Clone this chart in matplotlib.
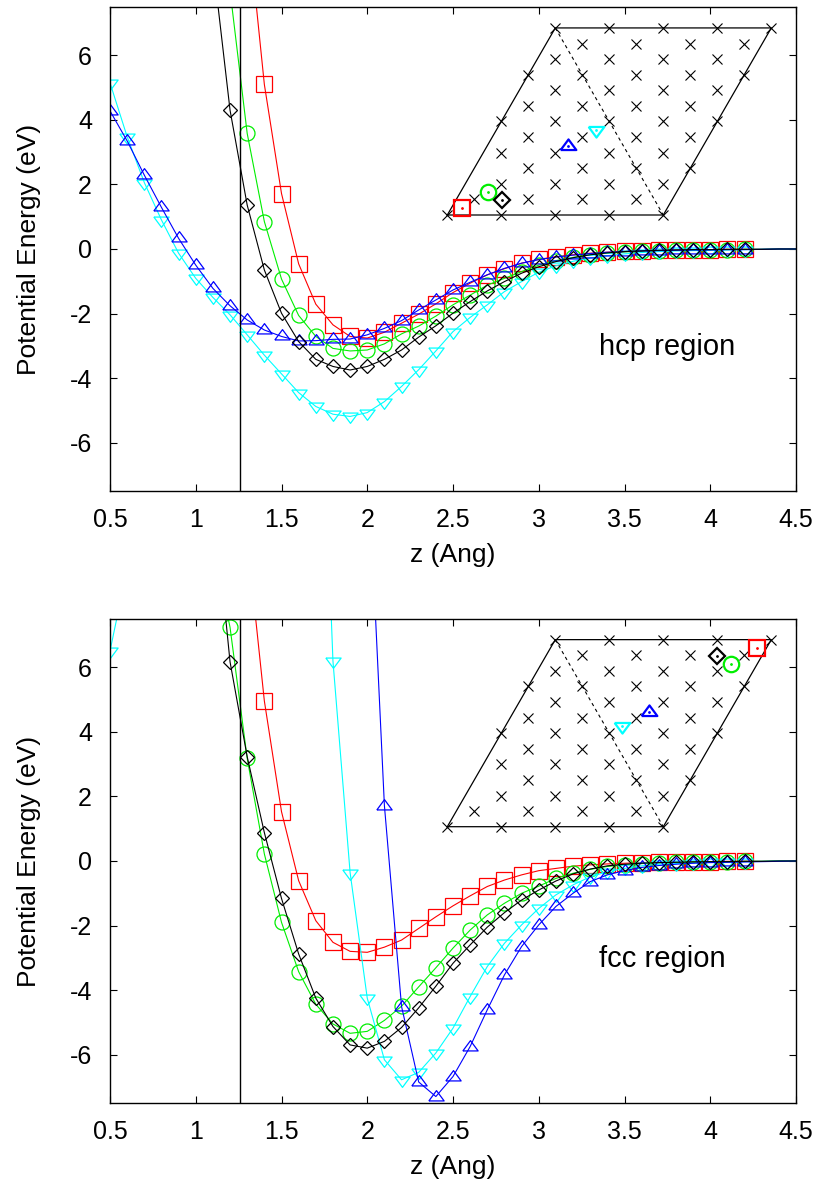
import numpy as np
import matplotlib
matplotlib.use("Agg")
import matplotlib.pyplot as plt

plt.rcParams["font.family"] = ["Liberation Sans", "DejaVu Sans"]
plt.rcParams["axes.unicode_minus"] = False

nan = np.nan

# separation z (Ang); markers shown up to 4.2, line continues to 4.5
z = np.round(np.arange(0.5, 4.51, 0.1), 2)
n_marked = 38

# --- hcp region (top panel) ---
hcp_red = [nan] * 8 + [
    10.3, 5.10, 1.72, -0.46, -1.71, -2.35, -2.71, -2.76, -2.58, -2.30, -2.02,
    -1.70, -1.35, -1.06, -0.80, -0.61, -0.44, -0.32, -0.24, -0.18, -0.13, -0.10,
    -0.07, -0.05, -0.04, -0.03, -0.02, -0.02, -0.01, -0.01, -0.01, 0.0, 0.0]
hcp_green = [nan] * 7 + [
    8.0, 3.58, 0.85, -0.93, -2.06, -2.71, -3.08, -3.16, -3.13, -2.94, -2.63,
    -2.39, -2.08, -1.73, -1.43, -1.12, -0.91, -0.70, -0.50, -0.36, -0.26, -0.18,
    -0.13, -0.09, -0.07, -0.05, -0.04, -0.03, -0.02, -0.02, -0.01, -0.01, 0.0, 0.0]
hcp_cyan = [
    5.15, 3.48, 2.06, 0.90, -0.13, -0.91, -1.50, -2.04, -2.66, -3.29, -3.87,
    -4.45, -4.88, -5.12, -5.19, -5.07, -4.73, -4.26, -3.74, -3.16, -2.56, -2.12,
    -1.73, -1.32, -1.01, -0.72, -0.52, -0.38, -0.28, -0.21, -0.15, -0.11, -0.08,
    -0.06, -0.05, -0.04, -0.03, -0.02, -0.01, 0.0, 0.0]
hcp_blue = [
    4.28, 3.35, 2.29, 1.29, 0.33, -0.50, -1.22, -1.76, -2.20, -2.51, -2.71,
    -2.85, -2.84, -2.80, -2.79, -2.66, -2.46, -2.22, -1.89, -1.58, -1.27, -1.03,
    -0.80, -0.60, -0.44, -0.33, -0.25, -0.19, -0.14, -0.10, -0.08, -0.06, -0.05,
    -0.04, -0.03, -0.03, -0.02, -0.02, -0.01, 0.0, 0.0]
hcp_black = [nan] * 6 + [
    8.9, 4.30, 1.36, -0.65, -1.99, -2.87, -3.42, -3.64, -3.75, -3.64, -3.42,
    -3.13, -2.73, -2.38, -1.99, -1.63, -1.30, -1.01, -0.75, -0.55, -0.39, -0.27,
    -0.18, -0.12, -0.08, -0.06, -0.04, -0.03, -0.02, -0.02, -0.01, -0.01, -0.01,
    0.0, 0.0]

# --- fcc region (bottom panel) ---
fcc_red = [nan] * 8 + [
    10.0, 4.96, 1.53, -0.61, -1.85, -2.52, -2.80, -2.83, -2.67, -2.45, -2.09,
    -1.73, -1.39, -1.08, -0.79, -0.59, -0.43, -0.30, -0.23, -0.16, -0.12, -0.09,
    -0.07, -0.05, -0.04, -0.03, -0.02, -0.02, -0.01, -0.01, -0.01, 0.0, 0.0]
fcc_green = [nan] * 6 + [
    9.8, 7.24, 3.18, 0.22, -1.90, -3.43, -4.44, -5.05, -5.34, -5.28, -4.94,
    -4.50, -3.90, -3.31, -2.70, -2.14, -1.67, -1.31, -1.00, -0.78, -0.54, -0.38,
    -0.26, -0.17, -0.12, -0.08, -0.06, -0.04, -0.03, -0.02, -0.02, -0.01, -0.01,
    0.0, 0.0]
fcc_cyan = [6.51, 9.05] + [nan] * 10 + [
    20.0, 6.2, -0.36, -4.25, -6.16, -6.78, -6.55, -5.95, -5.18, -4.20, -3.27,
    -2.55, -1.98, -1.47, -1.05, -0.74, -0.49, -0.33, -0.23, -0.15, -0.10, -0.08,
    -0.06, -0.04, -0.03, -0.02, -0.01, 0.0, 0.0]
fcc_blue = [nan] * 15 + [
    13.0, 1.72, -4.51, -6.85, -7.30, -6.68, -5.75, -4.61, -3.53, -2.65, -1.98,
    -1.41, -1.00, -0.64, -0.43, -0.30, -0.20, -0.14, -0.10, -0.07, -0.05, -0.04,
    -0.03, -0.02, -0.01, 0.0]
fcc_black = [nan] * 6 + [
    11.5, 6.17, 3.23, 0.88, -1.16, -2.88, -4.25, -5.13, -5.70, -5.80, -5.59,
    -5.16, -4.55, -3.88, -3.17, -2.60, -2.05, -1.60, -1.21, -0.90, -0.62, -0.40,
    -0.25, -0.15, -0.10, -0.07, -0.05, -0.04, -0.03, -0.02, -0.02, -0.01, -0.01,
    0.0, 0.0]

# adsorption sites in the inset, lattice units (a = 1): red, green, cyan, blue, black
hcp_site_x = [0.265, 0.747, 2.747, 2.24, 1.006]
hcp_site_y = [0.136, 0.432, 1.574, 1.284, 0.278]
fcc_site_x = [5.741, 5.247, 3.241, 3.741, 4.988]
fcc_site_y = [3.302, 3.012, 1.864, 2.117, 3.167]

z_wall = 1.26

TRI_UP = [(-1, -0.45), (1, -0.45), (0, 0.9), (-1, -0.45)]
TRI_DN = [(-1, 0.45), (1, 0.45), (0, -0.9), (-1, 0.45)]

styles = [
    dict(color="#ff0000", marker="s", ms=11.2),
    dict(color="#00ee00", marker="o", ms=10.8),
    dict(color="#00ffff", marker=TRI_DN, ms=11.0),
    dict(color="#0000ff", marker=TRI_UP, ms=11.0),
    dict(color="#000000", marker="D", ms=7.6),
]


def draw_inset(fig, rect, sx, sy):
    ax = fig.add_axes(rect)
    ax.set_xlim(-0.3, 6.3)
    ax.set_ylim(-0.3, 3.764)
    ax.axis("off")
    h = np.sqrt(3) / 2
    # three stacked layers of a triangular lattice, 4x4 rhombus
    px, py = [], []
    for j in range(5):
        for i in range(5):
            if (i, j) == (0, 1):
                continue
            px.append(i + 0.5 * j)
            py.append(j * h)
    for j in range(4):
        for i in range(4):
            px.append(i + 0.5 * j + 0.5)
            py.append(j * h + h / 3)
            px.append(i + 0.5 * j + 1.0)
            py.append(j * h + 2 * h / 3)
    ax.plot([0, 4, 6, 2, 0], [0, 0, 4 * h, 4 * h, 0], color="black", lw=0.9)
    ax.plot([2, 4], [4 * h, 0], color="black", lw=0.8, ls=(0, (3, 3)))
    ax.plot(px, py, ls="none", marker="x", ms=6.5, mew=0.8, color="black")
    for k, st in enumerate(styles):
        ax.plot(sx[k], sy[k], ls="none", marker=st["marker"], ms=st["ms"] + 0.3,
                mfc="none", mec=st["color"], mew=1.6)
        ax.plot(sx[k], sy[k], ls="none", marker=".", ms=2, color=st["color"])


def draw_panel(ax, series, label):
    for vals, st in zip(series, styles):
        ax.plot(z, vals, color=st["color"], lw=0.8, marker=st["marker"],
                ms=st["ms"], mfc="none", mec=st["color"], mew=0.9,
                markevery=slice(0, n_marked))
    ax.axvline(z_wall, color="black", lw=1.0)
    ax.set_xlim(0.5, 4.5)
    ax.set_ylim(-7.5, 7.5)
    ax.set_xticks([0.5, 1, 1.5, 2, 2.5, 3, 3.5, 4, 4.5])
    ax.set_xticklabels(["0.5", "1", "1.5", "2", "2.5", "3", "3.5", "4", "4.5"])
    ax.set_yticks([-6, -4, -2, 0, 2, 4, 6])
    ax.tick_params(direction="in", length=5, width=0.8, top=True, right=True,
                   labelsize=18)
    ax.tick_params(axis="x", pad=12)
    ax.tick_params(axis="y", pad=13)
    for sp in ax.spines.values():
        sp.set_linewidth(1.0)
    ax.set_xlabel("z (Ang)", fontsize=19, labelpad=8)
    ax.set_ylabel("Potential Energy (eV)", fontsize=19)
    ax.yaxis.set_label_coords(-0.1, 0.5)
    ax.text(3.35, -3.05, label, fontsize=21, ha="left", va="center")


fig = plt.figure(figsize=(8.25, 11.94), dpi=100)
W, H = 825.0, 1194.0

ax_top = fig.add_axes([110 / W, 1 - 491 / H, 686 / W, 484 / H])
draw_panel(ax_top, [hcp_red, hcp_green, hcp_cyan, hcp_blue, hcp_black], "hcp region")
draw_inset(fig, [431.1 / W, 1 - 231.2 / H, 356.4 / W, 219.46 / H], hcp_site_x, hcp_site_y)

ax_bot = fig.add_axes([110 / W, 1 - 1103 / H, 686 / W, 484 / H])
draw_panel(ax_bot, [fcc_red, fcc_green, fcc_cyan, fcc_blue, fcc_black], "fcc region")
draw_inset(fig, [431.1 / W, 1 - 842.9 / H, 356.4 / W, 219.46 / H], fcc_site_x, fcc_site_y)

fig.savefig("out.png", dpi=100, facecolor="white")
plt.close(fig)
